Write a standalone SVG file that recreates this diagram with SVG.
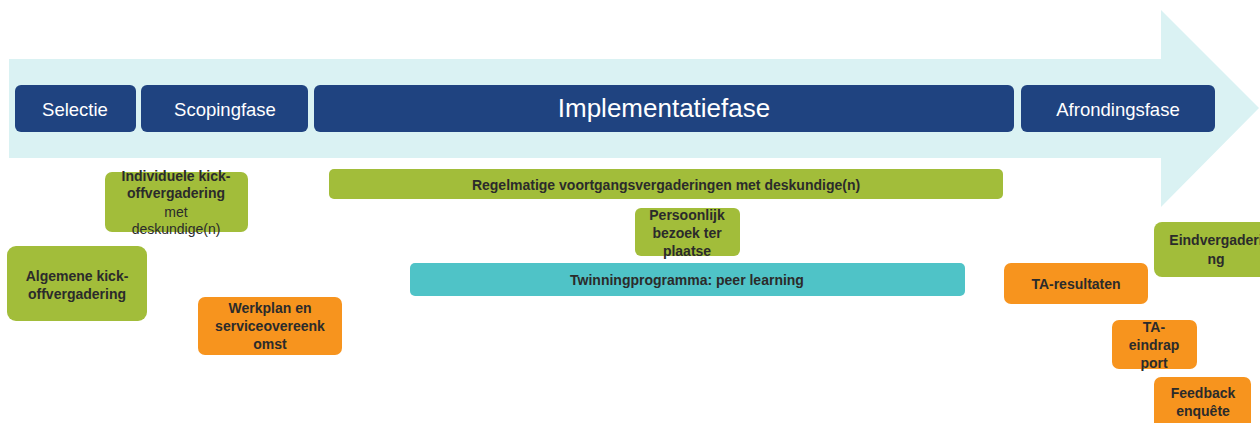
<svg xmlns="http://www.w3.org/2000/svg" width="1260" height="423" viewBox="0 0 1260 423">
<style>
.ph{fill:#1F4380}
.g{fill:#A2BD3A}
.o{fill:#F7941E}
.t{fill:#4FC3C7}
.pt{fill:#FFFFFF;font-family:"Liberation Sans",Arial,sans-serif;font-size:18.5px;text-anchor:middle;dominant-baseline:central}
.bt{fill:#2B2B2B;font-family:"Liberation Sans",Arial,sans-serif;font-size:14px;font-weight:bold;text-anchor:middle;dominant-baseline:central}
.rt{fill:#2B2B2B;font-family:"Liberation Sans",Arial,sans-serif;font-size:14px;text-anchor:middle;dominant-baseline:central}
</style>
<rect width="1260" height="423" fill="#FFFFFF"/>
<g id="arrow">
<polygon points="9,59 1161,59 1161,10 1259,108 1161,207 1161,158 9,158" fill="#DAF2F3"/>
</g>
<g id="selectie"><rect class="ph" x="15" y="85" width="121" height="47" rx="6"/><text class="pt" x="75" y="109">Selectie</text></g>
<g id="scopingfase"><rect class="ph" x="141" y="85" width="167" height="47" rx="6"/><text class="pt" x="225" y="109">Scopingfase</text></g>
<g id="implementatiefase"><rect class="ph" x="314" y="85" width="700" height="47" rx="6"/><text class="pt" x="664" y="108" style="font-size:26px">Implementatiefase</text></g>
<g id="afrondingsfase"><rect class="ph" x="1021" y="85" width="194" height="47" rx="6"/><text class="pt" x="1118" y="109">Afrondingsfase</text></g>
<g id="individuele"><rect class="g" x="105" y="172" width="143" height="60" rx="7"/>
<text class="bt" x="176" y="176">Individuele kick-</text><text class="bt" x="176" y="193">offvergadering</text><text class="rt" x="176" y="212">met</text><text class="rt" x="176" y="229">deskundige(n)</text></g>
<g id="algemene"><rect class="g" x="7" y="246" width="140" height="75" rx="9"/>
<text class="bt" x="77" y="276">Algemene kick-</text><text class="bt" x="77" y="294">offvergadering</text></g>
<g id="werkplan"><rect class="o" x="198" y="297" width="144" height="58" rx="7"/>
<text class="bt" x="270" y="308">Werkplan en</text><text class="bt" x="270" y="326">serviceovereenk</text><text class="bt" x="270" y="344">omst</text></g>
<g id="regelmatige"><rect class="g" x="329" y="169" width="674" height="30" rx="5"/>
<text class="bt" x="666" y="185">Regelmatige voortgangsvergaderingen met deskundige(n)</text></g>
<g id="persoonlijk"><rect class="g" x="635" y="208" width="105" height="48" rx="6"/>
<text class="bt" x="687" y="215">Persoonlijk</text><text class="bt" x="687" y="233">bezoek ter</text><text class="bt" x="687" y="251">plaatse</text></g>
<g id="twinning"><rect class="t" x="410" y="263" width="555" height="33" rx="5"/>
<text class="bt" x="687" y="280">Twinningprogramma: peer learning</text></g>
<g id="ta-resultaten"><rect class="o" x="1004" y="263" width="144" height="41" rx="7"/>
<text class="bt" x="1076" y="284">TA-resultaten</text></g>
<g id="eindvergadering"><rect class="g" x="1154" y="222" width="124" height="55" rx="8"/>
<text class="bt" x="1216" y="240">Eindvergaderi</text><text class="bt" x="1216" y="259">ng</text></g>
<g id="ta-eindrapport"><rect class="o" x="1112" y="320" width="85" height="49" rx="7"/>
<text class="bt" x="1154" y="327">TA-</text><text class="bt" x="1154" y="345">eindrap</text><text class="bt" x="1154" y="363">port</text></g>
<g id="feedback"><rect class="o" x="1154" y="377" width="97" height="56" rx="7"/>
<text class="bt" x="1203" y="393">Feedback</text><text class="bt" x="1203" y="411">enquête</text></g>
<g id="connectors"></g>
</svg>
